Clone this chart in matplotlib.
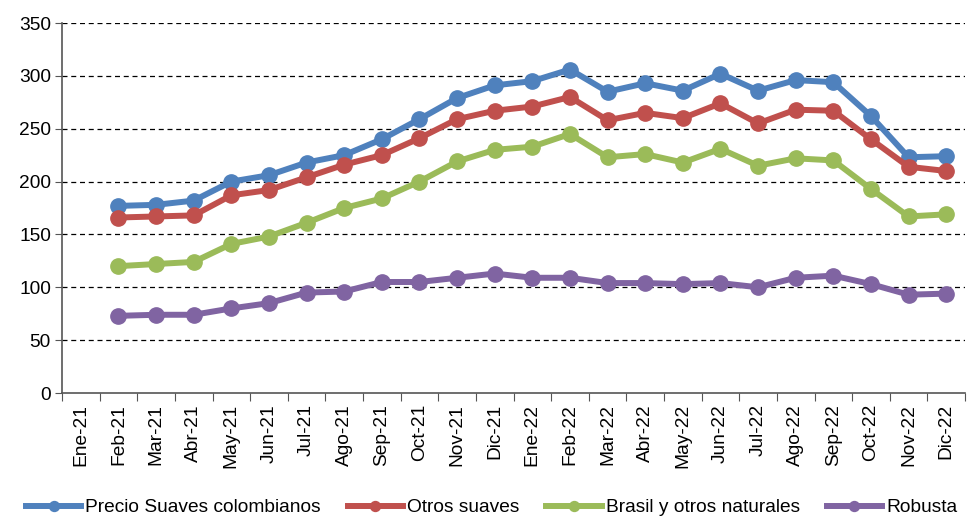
import matplotlib
matplotlib.use("Agg")
import matplotlib.pyplot as plt
import numpy as np

plt.rcParams['font.family'] = ['Liberation Sans', 'DejaVu Sans']

categories = ["Ene-21", "Feb-21", "Mar-21", "Abr-21", "May-21", "Jun-21", "Jul-21", "Ago-21",
              "Sep-21", "Oct-21", "Nov-21", "Dic-21", "Ene-22", "Feb-22", "Mar-22", "Abr-22",
              "May-22", "Jun-22", "Jul-22", "Ago-22", "Sep-22", "Oct-22", "Nov-22", "Dic-22"]

suaves_colombianos = [np.nan, 177, 178, 182, 200, 206, 218, 225, 240, 259, 279, 291,
                      295, 306, 285, 293, 286, 302, 286, 296, 294, 262, 223, 224]
otros_suaves = [np.nan, 166, 167, 168, 187, 192, 204, 216, 225, 241, 259, 267,
                271, 280, 258, 265, 260, 274, 255, 268, 267, 240, 214, 210]
brasil = [np.nan, 120, 122, 124, 141, 148, 161, 175, 184, 200, 219, 230,
          233, 245, 223, 226, 218, 231, 215, 222, 220, 193, 167, 169]
robusta = [np.nan, 73, 74, 74, 80, 85, 95, 96, 105, 105, 109, 113,
           109, 109, 104, 104, 103, 104, 100, 109, 111, 103, 93, 94]

series_names = ["Precio Suaves colombianos", "Otros suaves", "Brasil y otros naturales", "Robusta"]
colors = ["#4F81BD", "#C0504D", "#9BBB59", "#8064A2"]
y_ticks = [0, 50, 100, 150, 200, 250, 300, 350]

fig = plt.figure(figsize=(9.77, 5.19), dpi=100)
ax = fig.add_axes([62/977, 126/519, 903/977, 370/519])

x = np.arange(len(categories))
for vals, name, c in zip([suaves_colombianos, otros_suaves, brasil, robusta], series_names, colors):
    ax.plot(x, vals, color=c, lw=4.3, marker='o', markersize=11, label=name,
            solid_joinstyle='round', zorder=3)

ax.set_xlim(-0.5, len(categories) - 0.5)
ax.set_ylim(0, 350)
ax.set_yticks(y_ticks)
ax.set_yticklabels([str(v) for v in y_ticks], fontsize=13.8)
for v in y_ticks[1:]:
    ax.axhline(v, color='black', lw=0.9, ls=(0, (4, 3)), zorder=1)

ax.set_xticks(np.arange(-0.5, len(categories), 1.0))
ax.set_xticklabels([])
ax.set_xticks(x, minor=True)
ax.set_xticklabels(categories, minor=True, rotation=90, fontsize=13.8)
ax.tick_params(axis='x', which='minor', length=0, pad=8)
ax.tick_params(axis='x', which='major', length=6, color='#555555')
ax.tick_params(axis='y', length=5, color='#555555', pad=3)

for s in ['top', 'right']:
    ax.spines[s].set_visible(False)
ax.spines['left'].set_color('#555555')
ax.spines['bottom'].set_color('#555555')
ax.spines['left'].set_linewidth(1.2)
ax.spines['bottom'].set_linewidth(1.2)

fig.legend(loc='center', bbox_to_anchor=(0.503, 0.022), ncol=4, frameon=False,
           fontsize=13.8, handlelength=2.9, columnspacing=1.4, handletextpad=0.2,
           markerscale=0.65, borderaxespad=0)

fig.savefig("out.png", dpi=100)
